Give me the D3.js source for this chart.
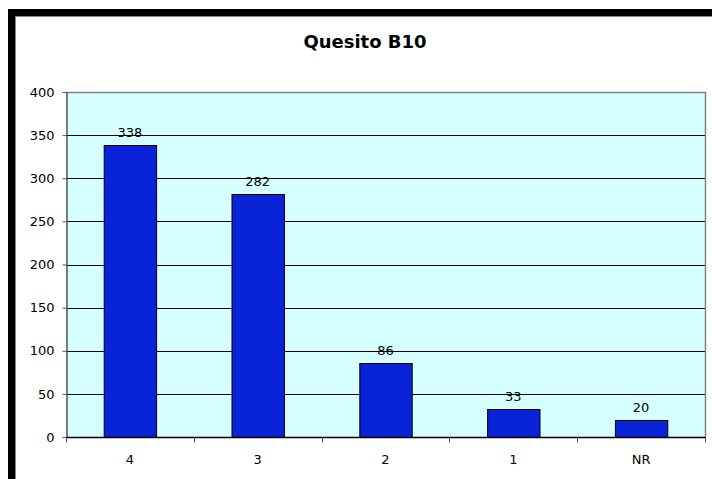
<!DOCTYPE html>
<html><head><meta charset="utf-8">
<script src="https://cdn.jsdelivr.net/npm/d3@7"></script>
<style>body{margin:0;background:#fff;}svg{display:block;}</style>
</head><body>
<svg id="c" width="712" height="479"></svg>
<script>
const title = "Quesito B10";
const categories = ["4", "3", "2", "1", "NR"];
const values = [338, 282, 86, 33, 20];
const yTicks = [0, 50, 100, 150, 200, 250, 300, 350, 400];

const svg = d3.select("#c");
const font = "Verdana, 'DejaVu Sans', sans-serif";
// outer frame
svg.append("rect").attr("x",8).attr("y",9).attr("width",704).attr("height",7).attr("fill","#000");
svg.append("rect").attr("x",8).attr("y",9).attr("width",7).attr("height",470).attr("fill","#000");
svg.append("line").attr("x1",15.5).attr("x2",15.5).attr("y1",16).attr("y2",479).attr("stroke","#888").attr("stroke-width",1);
svg.append("line").attr("x1",15).attr("x2",712).attr("y1",16.5).attr("y2",16.5).attr("stroke","#888").attr("stroke-width",1);

const L=66, R=705, T=92, B=437;
const x = d3.scaleBand().domain(categories).range([L,R]).paddingInner(0.59).paddingOuter(0.295);
const xb = d3.scaleBand().domain(categories).range([L,R]);
const y = d3.scaleLinear().domain([0,400]).range([B,T]);

svg.append("rect").attr("x",L).attr("y",T).attr("width",R-L).attr("height",B-T).attr("fill","#d6ffff");
// gridlines
svg.append("g").selectAll("line").data(yTicks.filter(d=>d>0 && d<400)).join("line")
  .attr("x1",L).attr("x2",R).attr("y1",d=>Math.round(y(d))+0.5).attr("y2",d=>Math.round(y(d))+0.5)
  .attr("stroke","#000").attr("stroke-width",1);
// plot border top/right grey
svg.append("path").attr("d",`M${L},${T+0.5}H${R+0.5}V${B}`).attr("fill","none").attr("stroke","#808080").attr("stroke-width",1.5);

// bars
svg.append("g").selectAll("rect").data(values).join("rect")
  .attr("x",(d,i)=>x(categories[i])+0.5).attr("width",x.bandwidth())
  .attr("y",d=>Math.round(y(d))+0.5).attr("height",d=>B-Math.round(y(d)))
  .attr("fill","#0823d8").attr("stroke","#000").attr("stroke-width",1);
// labels
svg.append("g").selectAll("text").data(values).join("text")
  .attr("x",(d,i)=>x(categories[i])+x.bandwidth()/2).attr("y",d=>y(d)-8)
  .attr("text-anchor","middle").attr("font-family",font).attr("font-size",13).attr("fill","#000")
  .text(d=>d);

// y axis
const ya = svg.append("g").attr("transform",`translate(${L+0.5},0)`)
  .call(d3.axisLeft(y).tickValues(yTicks).tickSize(4).tickSizeOuter(0).tickPadding(8).tickFormat(d3.format("d")));
ya.select(".domain").attr("stroke","#555").attr("stroke-width",1.5);
ya.selectAll(".tick line").attr("stroke","#555");
ya.selectAll("text").attr("font-family",font).attr("font-size",13).attr("fill","#000");

// x axis
const xa = svg.append("g").attr("transform",`translate(0,${B+0.5})`);
xa.append("line").attr("x1",L).attr("x2",R+1).attr("y1",0).attr("y2",0).attr("stroke","#000").attr("stroke-width",1.5);
xa.selectAll("line.t").data(categories.map(c=>xb(c)).concat([R])).join("line").attr("class","t")
  .attr("x1",d=>Math.round(d)+0.5).attr("x2",d=>Math.round(d)+0.5).attr("y1",0).attr("y2",5).attr("stroke","#555");
xa.selectAll("text").data(categories).join("text")
  .attr("x",c=>xb(c)+xb.bandwidth()/2).attr("y",26)
  .attr("text-anchor","middle").attr("font-family",font).attr("font-size",13).attr("fill","#000").text(c=>c);

svg.append("text").attr("x",365).attr("y",48).attr("text-anchor","middle")
  .attr("font-family",font).attr("font-weight","bold").attr("font-size",18).text(title);
</script>
</body></html>
